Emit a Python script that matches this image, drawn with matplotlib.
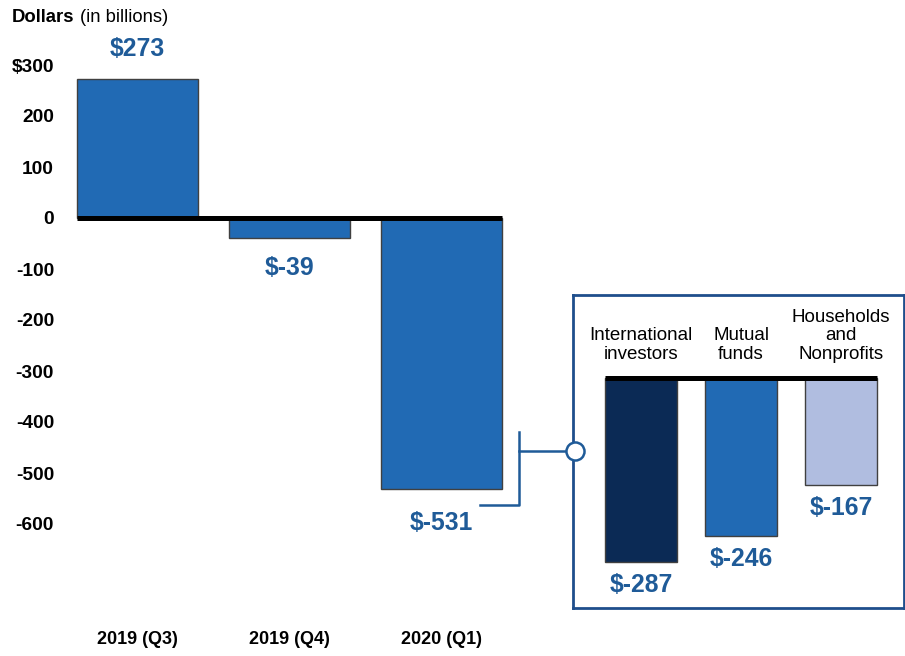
import matplotlib
matplotlib.use("Agg")
import matplotlib.pyplot as plt
from matplotlib.lines import Line2D
import matplotlib.transforms as mtransforms
from matplotlib import font_manager

# ---------------- data ----------------
periods = ['2019 (Q3)', '2019 (Q4)', '2020 (Q1)']
net_values = [273, -39, -531]
y_ticks = [300, 200, 100, 0, -100, -200, -300, -400, -500, -600]
y_tick_labels = ['$300', '200', '100', '0', '-100', '-200', '-300', '-400', '-500', '-600']
sectors = ['International\ninvestors', 'Mutual\nfunds', 'Households\nand\nNonprofits']
sector_values = [-287, -246, -167]

# ---------------- style ----------------
main_color = '#216AB4'
label_color = '#1F5B98'
sector_colors = ['#0B2A55', '#216AB4', '#B0BDE0']
box_color = '#1F4E8C'
edge_color = '#404040'

available = {f.name for f in font_manager.fontManager.ttflist}
narrow = [n for n in ['Liberation Sans Narrow', 'DejaVu Sans Condensed'] if n in available]
narrow = narrow + ['Liberation Sans', 'DejaVu Sans']
value_size = 19 if narrow[0] in ('Liberation Sans Narrow', 'DejaVu Sans Condensed') else 17.8

plt.rcParams['font.family'] = ['Liberation Sans', 'DejaVu Sans']

W, H = 905, 656
fig = plt.figure(figsize=(W / 100, H / 100), dpi=100)


def px(x0, y0, x1, y1):
    return [x0 / W, 1 - y1 / H, (x1 - x0) / W, (y1 - y0) / H]


# ---------------- main chart ----------------
ax = fig.add_axes(px(61.5, 39.5, 517.5, 575))
x = list(range(len(periods)))
ax.bar(x, net_values, width=0.8, color=main_color, edgecolor=edge_color, linewidth=1, zorder=2)
ax.plot([-0.4, len(periods) - 0.6], [0, 0], color='black', linewidth=3.6, zorder=3,
        solid_capstyle='butt')
ax.set_xlim(-0.5, 2.5)
ax.set_ylim(-700, 350)
ax.set_yticks(y_ticks)
ax.set_yticklabels(y_tick_labels, fontsize=13.8, fontweight='bold')
ax.tick_params(axis='y', length=0, pad=5.4)
ax.set_xticks([])
for s in ax.spines.values():
    s.set_visible(False)

for xi, v in zip(x, net_values):
    off = 21.6 if v > 0 else -22
    if v < -300:
        off = -24.5
    ax.annotate(f'${v}', xy=(xi, v), xytext=(0, off), textcoords='offset points',
                ha='center', va='center', fontsize=value_size, fontweight='bold',
                color=label_color, family=narrow)

trans = mtransforms.blended_transform_factory(ax.transData, ax.transAxes)
for xi, p in zip(x, periods):
    ax.text(xi, -0.121, p, transform=trans, ha='center', va='center',
            fontsize=13, fontweight='bold')

# title
fig.text(12 / W, 1 - 18 / H, 'Dollars', fontsize=13.3, fontweight='bold', va='center', ha='left')
fig.text(80 / W, 1 - 18 / H, '(in billions)', fontsize=13.2, va='center', ha='left')

# ---------------- inset ----------------
ax2 = fig.add_axes(px(573, 295, 904, 608))
xs = list(range(len(sectors)))
ax2.bar(xs, sector_values, width=0.72, color=sector_colors, edgecolor=edge_color,
        linewidth=1, zorder=2)
ax2.plot([-0.36, len(sectors) - 1 + 0.36], [0, 0], color='black', linewidth=3.6, zorder=3,
         solid_capstyle='butt')
ax2.set_xlim(-0.68, 2.63)
ax2.set_ylim(-358.8, 129.5)
ax2.set_xticks([])
ax2.set_yticks([])
for s in ax2.spines.values():
    s.set_color(box_color)
    s.set_linewidth(2.0)

for xi, v, name in zip(xs, sector_values, sectors):
    ax2.annotate(f'${v}', xy=(xi, v), xytext=(0, -16.5), textcoords='offset points',
                 ha='center', va='center', fontsize=value_size, fontweight='bold',
                 color=label_color, family=narrow)
    ax2.annotate(name, xy=(xi, 0), xytext=(0, 11), textcoords='offset points',
                 ha='center', va='bottom', fontsize=13.5, linespacing=1.12,
                 multialignment='center')

# ---------------- connector ----------------
def fx(p):
    return p / W


def fy(p):
    return 1 - p / H


fig.add_artist(Line2D([fx(480), fx(519), fx(519)], [fy(505), fy(505), fy(432)],
                      transform=fig.transFigure, color=label_color, linewidth=1.8))
fig.add_artist(Line2D([fx(519), fx(566)], [fy(451), fy(451)],
                      transform=fig.transFigure, color=label_color, linewidth=1.8))
fig.add_artist(Line2D([fx(575)], [fy(451)], transform=fig.transFigure, marker='o',
                      markersize=13, markerfacecolor='white', markeredgecolor=label_color,
                      markeredgewidth=1.8, linestyle='none'))

fig.savefig('out.png', dpi=100)
